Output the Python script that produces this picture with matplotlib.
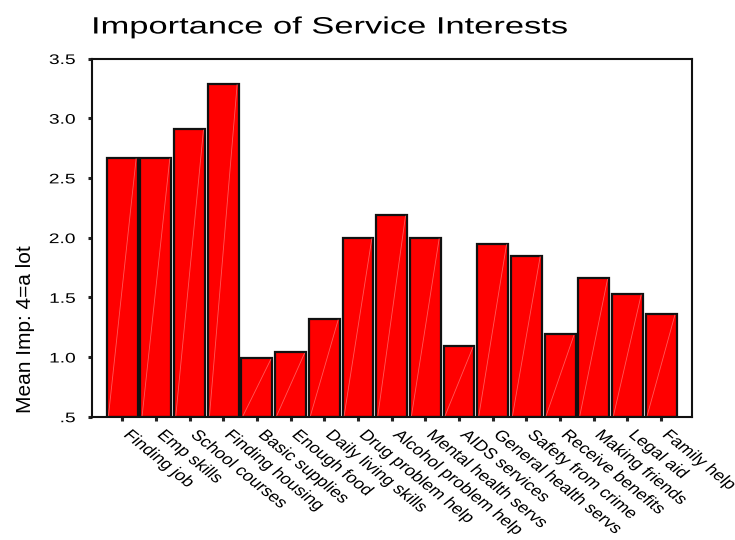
import matplotlib
matplotlib.use("Agg")
import matplotlib.pyplot as plt
from matplotlib.patheffects import AbstractPathEffect
from matplotlib.transforms import Affine2D, ScaledTranslation
import numpy as np

categories = ["Finding job", "Emp skills", "School courses", "Finding housing",
              "Basic supplies", "Enough food", "Daily living skills",
              "Drug problem help", "Alcohol problem help", "Mental health servs",
              "AIDS services", "General health servs", "Safety from crime",
              "Receive benefits", "Making friends", "Legal aid", "Family help"]
mean_importance = [2.67, 2.67, 2.91, 3.29, 0.99, 1.04, 1.32, 2.00, 2.19, 2.00,
                   1.09, 1.95, 1.85, 1.19, 1.66, 1.53, 1.36]
y_ticks = [0.5, 1.0, 1.5, 2.0, 2.5, 3.0, 3.5]
y_tick_labels = [".5", "1.0", "1.5", "2.0", "2.5", "3.0", "3.5"]

plt.rcParams['font.family'] = ['Liberation Sans', 'DejaVu Sans']


class WideText(AbstractPathEffect):
    """Draw glyphs stretched horizontally about a chosen edge of the ink."""

    def __init__(self, sx, pivot="left"):
        super().__init__()
        self.sx = sx
        self.pivot = pivot

    def draw_path(self, renderer, gc, tpath, affine, rgbFace=None):
        ext = tpath.get_extents(affine)
        if self.pivot == "left":
            px = ext.x0
        elif self.pivot == "right":
            px = ext.x1
        else:
            px = 0.5 * (ext.x0 + ext.x1)
        wide = Affine2D().translate(-px, 0).scale(self.sx, 1).translate(px, 0)
        renderer.draw_path(gc, tpath, affine + wide, rgbFace)


fig = plt.figure(figsize=(7.35, 5.4), dpi=100)
ax = fig.add_axes([92 / 735, 1 - 416.7 / 540, 600 / 735, 358.2 / 540])

base = 0.5
width = 0.92
x = np.arange(len(categories))
heights = [v - base for v in mean_importance]
ax.bar(x, heights, bottom=base, width=width, color="#ff0000",
       edgecolor="#111111", linewidth=1.6, zorder=2)

# faint diagonal sheen across each bar
for xi, v in zip(x, mean_importance):
    ax.plot([xi - width / 2 + 0.05, xi + width / 2 - 0.05], [base + 0.01, v - 0.01],
            color="#ff7070", linewidth=0.6, alpha=0.8, zorder=3)

ax.set_xlim(-0.9, len(categories) - 1 + 0.92)
ax.set_ylim(0.5, 3.5)
ax.set_yticks(y_ticks)
ax.set_yticklabels(y_tick_labels, fontsize=10)
ax.set_xticks(x)
ax.set_xticklabels(categories, fontsize=10.9, rotation=-45, ha="left",
                   va="top", rotation_mode="anchor")

ax.tick_params(axis="both", direction="out", length=3, width=2.2, color="#222222")
ax.tick_params(axis="x", pad=5)
ax.tick_params(axis="y", pad=9)
for s in ax.spines.values():
    s.set_linewidth(1.5)
    s.set_color("#111111")

shift = ScaledTranslation(6 / 72, 0, fig.dpi_scale_trans)
for lbl in ax.get_yticklabels():
    lbl.set_path_effects([WideText(1.38, "right")])
for lbl in ax.get_xticklabels():
    lbl.set_transform(lbl.get_transform() + shift)
    lbl.set_path_effects([WideText(1.24, "left")])

ax.set_ylabel("Mean Imp: 4=a lot", fontsize=15)
ax.yaxis.set_label_coords(-0.095, (416.7 - 329) / 358.2)

title = fig.text(92 / 735, 1 - 33.5 / 540, "Importance of Service Interests",
                 fontsize=17, ha="left", va="baseline")
title.set_path_effects([WideText(1.46, "left")])

fig.savefig("out.png", dpi=100, facecolor="white")
